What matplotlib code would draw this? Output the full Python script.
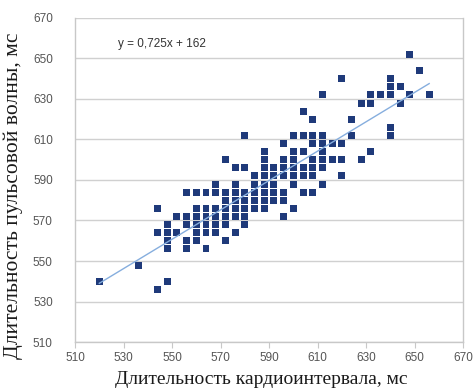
import matplotlib
matplotlib.use("Agg")
import matplotlib.pyplot as plt
import numpy as np

# Data: columns of (x, [y values]) (ms)
col_x = [520, 536, 544, 548, 552, 556, 560, 564, 568, 572, 576, 580, 584, 588,
         592, 596, 600, 604, 608, 612, 616, 620, 624, 628, 632, 636, 640, 644,
         648, 652, 656]
col_y = [
    [540],
    [548],
    [536, 564, 576],
    [540, 556, 560, 564, 568],
    [564, 572],
    [556, 560, 568, 572, 584],
    [560, 564, 568, 572, 576, 584],
    [556, 564, 568, 572, 576, 584],
    [564, 568, 572, 576, 584, 588],
    [560, 568, 572, 576, 580, 584, 600],
    [564, 572, 576, 580, 584, 588, 596],
    [568, 572, 576, 580, 584, 596, 612],
    [576, 580, 584, 588, 592],
    [576, 580, 584, 588, 592, 596, 600, 604],
    [580, 584, 588, 592, 596],
    [572, 580, 584, 592, 596, 600, 608],
    [576, 588, 592, 596, 600, 604, 612],
    [584, 592, 596, 604, 612, 624],
    [584, 592, 596, 600, 608, 612, 620],
    [588, 596, 600, 604, 608, 612, 632],
    [600, 608],
    [592, 600, 608, 640],
    [612, 620],
    [600, 628],
    [604, 628, 632],
    [632],
    [612, 616, 632, 636, 640],
    [628, 636],
    [632, 652],
    [644],
    [632],
]
slope = 0.725
intercept = 162
equation_label = "y = 0,725x + 162"
ticks = [510, 530, 550, 570, 590, 610, 630, 650, 670]
xlabel = "Длительность кардиоинтервала, мс"
ylabel = "Длительность пульсовой волны, мс"

xs = []
ys = []
for cx, cy in zip(col_x, col_y):
    for v in cy:
        xs.append(cx)
        ys.append(v)
xs = np.array(xs, dtype=float)
ys = np.array(ys, dtype=float)

fig = plt.figure(figsize=(4.75, 3.91), dpi=100)
ax = fig.add_axes([0.158, 0.1253, 0.817, 0.8287])

ax.set_xlim(510, 670)
ax.set_ylim(510, 670)
ax.set_xticks(ticks)
ax.set_yticks(ticks)
ax.yaxis.grid(True, color="#d0d0d0", linewidth=1.0)
ax.set_axisbelow(True)
for s in ["left", "bottom", "right"]:
    ax.spines[s].set_color("#c8c8c8")
    ax.spines[s].set_linewidth(1.0)
ax.spines["top"].set_visible(False)
ax.tick_params(axis="x", length=4, color="#c8c8c8", labelsize=8.5,
               labelcolor="#555555", pad=3)
ax.tick_params(axis="y", length=0, labelsize=8.5, labelcolor="#555555", pad=16)
for lab in ax.get_xticklabels() + ax.get_yticklabels():
    lab.set_family("Liberation Sans")

ax.scatter(xs, ys, marker="s", s=25, color="#1f3a7a", edgecolors="none",
           zorder=3)

lx = np.array([xs.min(), xs.max()])
ax.plot(lx, slope * lx + intercept, color="#86aede", linewidth=1.0, zorder=4)

ax.text(0.11, 0.92, equation_label, transform=ax.transAxes, fontsize=8.5,
        family="Liberation Sans", color="#333333", va="center", ha="left")

ax.set_xlabel(xlabel, family="Liberation Serif", fontsize=14, color="#1a1a1a")
ax.set_ylabel(ylabel, family="Liberation Serif", fontsize=15.5, color="#1a1a1a")
ax.xaxis.set_label_coords(0.48, -0.09)
ax.yaxis.set_label_coords(-0.135, 0.45)

fig.savefig("out.png", dpi=100)
